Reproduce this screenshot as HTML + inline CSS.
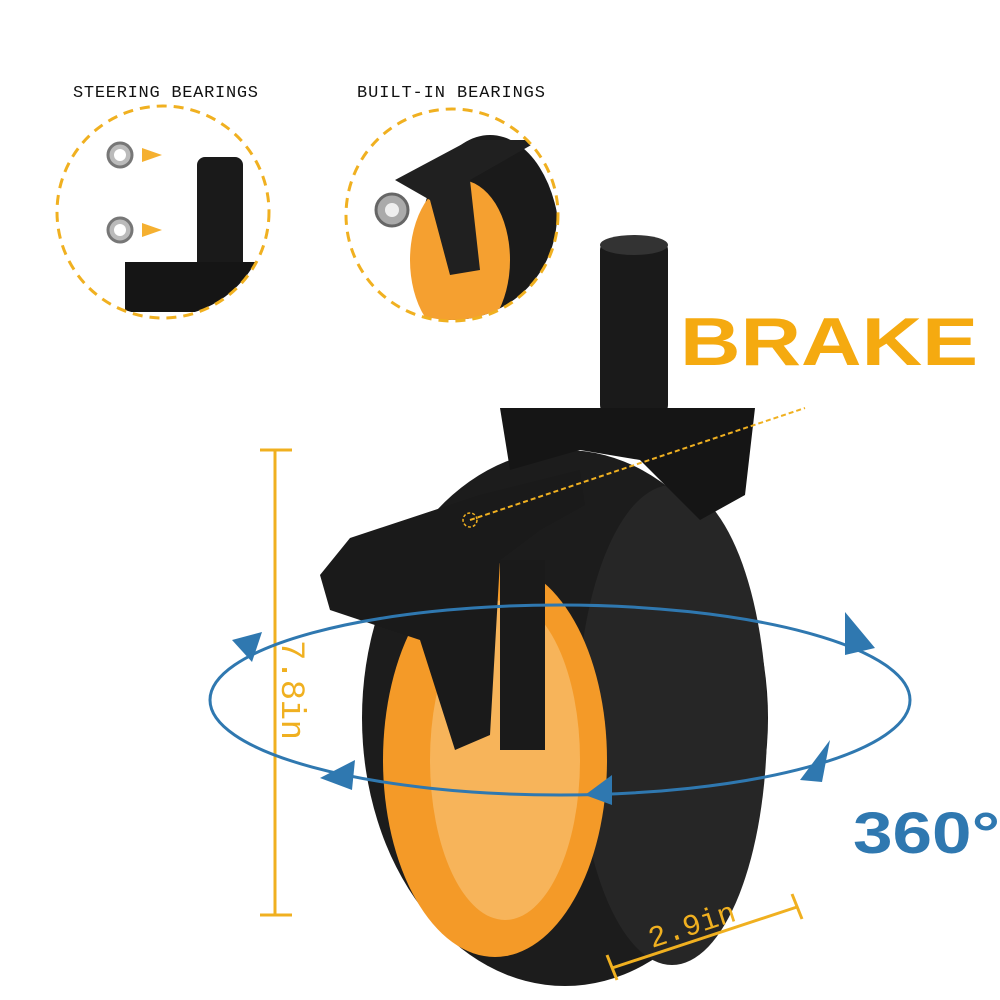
<!DOCTYPE html>
<html><head><meta charset="utf-8"><style>
html,body{margin:0;padding:0;background:#fff}
svg{display:block}
</style></head><body>
<svg width="1000" height="1000" viewBox="0 0 1000 1000" xmlns="http://www.w3.org/2000/svg">
<rect width="1000" height="1000" fill="#fff"/>
<text x="73" y="97" font-family="Liberation Mono, monospace" font-size="17" fill="#111" textLength="185">STEERING BEARINGS</text>
<text x="357" y="97" font-family="Liberation Mono, monospace" font-size="17" fill="#111" textLength="188">BUILT-IN BEARINGS</text>
<!-- left inset -->
<clipPath id="c1"><circle cx="163" cy="212" r="105"/></clipPath>
<g clip-path="url(#c1)">
<rect x="197" y="157" width="46" height="113" rx="8" fill="#1a1a1a"/>
<rect x="125" y="262" width="130" height="50" fill="#151515"/>
</g>
<circle cx="163" cy="212" r="106" fill="none" stroke="#f0b020" stroke-width="3" stroke-dasharray="10,7"/>
<circle cx="120" cy="155" r="12" fill="#bbb" stroke="#777" stroke-width="3"/><circle cx="120" cy="155" r="6" fill="#fff"/>
<circle cx="120" cy="230" r="12" fill="#bbb" stroke="#777" stroke-width="3"/><circle cx="120" cy="230" r="6" fill="#fff"/>
<polygon points="142,148 162,155 142,162" fill="#f5b030"/>
<polygon points="142,223 162,230 142,237" fill="#f5b030"/>
<!-- right inset -->
<clipPath id="c2"><circle cx="452" cy="215" r="105"/></clipPath>
<g clip-path="url(#c2)">
<ellipse cx="490" cy="245" rx="70" ry="110" fill="#1a1a1a"/>
<ellipse cx="460" cy="260" rx="50" ry="80" fill="#f5a030"/>
<path d="M395,180 L470,140 L540,140 L470,180 L480,270 L450,275 L430,200 Z" fill="#202020"/>
</g>
<circle cx="452" cy="215" r="106" fill="none" stroke="#f0b020" stroke-width="3" stroke-dasharray="10,7"/>
<circle cx="392" cy="210" r="16" fill="#aaa" stroke="#666" stroke-width="3"/><circle cx="392" cy="210" r="7" fill="#eee"/>
<!-- BRAKE -->
<text x="680" y="365" font-family="Liberation Sans, sans-serif" font-weight="bold" font-size="68" fill="#f5aa10" textLength="298" lengthAdjust="spacingAndGlyphs">BRAKE</text>
<!-- wheel -->
<rect x="600" y="240" width="68" height="175" rx="10" fill="#1a1a1a"/>
<ellipse cx="634" cy="245" rx="34" ry="10" fill="#333"/>
<ellipse cx="565" cy="718" rx="203" ry="268" fill="#1c1c1c"/>
<ellipse cx="672" cy="725" rx="95" ry="240" fill="#262626"/>
<ellipse cx="495" cy="760" rx="112" ry="197" fill="#f49a28"/>
<ellipse cx="505" cy="760" rx="75" ry="160" fill="#f7b45a"/>
<rect x="500" y="560" width="45" height="190" fill="#1a1a1a"/>
<path d="M500,408 L755,408 L745,495 L700,520 L640,460 L580,450 L510,470 Z" fill="#151515"/>
<path d="M320,575 L350,538 L480,495 L580,470 L585,505 L540,530 L500,560 L490,735 L455,750 L420,640 L330,610 Z" fill="#1a1a1a"/>
<line x1="470" y1="520" x2="805" y2="408" stroke="#f0b020" stroke-width="2" stroke-dasharray="5,3"/>
<circle cx="470" cy="520" r="7" fill="none" stroke="#f0b020" stroke-width="1.5" stroke-dasharray="3,2"/>
<!-- dimensions -->
<g stroke="#f0b020" stroke-width="3" fill="none">
<line x1="275" y1="450" x2="275" y2="915"/><line x1="260" y1="450" x2="292" y2="450"/><line x1="260" y1="915" x2="292" y2="915"/>
<line x1="612" y1="968" x2="797" y2="907"/><line x1="607" y1="955" x2="617" y2="980"/><line x1="792" y1="894" x2="802" y2="919"/>
</g>
<text transform="translate(282,640) rotate(90)" font-family="Liberation Mono, monospace" font-size="34" fill="#f0b020" textLength="100">7.8in</text>
<text transform="translate(652,948) rotate(-18)" font-family="Liberation Mono, monospace" font-size="30" fill="#f0b020">2.9in</text>
<!-- rotation ellipse -->
<ellipse cx="560" cy="700" rx="350" ry="95" fill="none" stroke="#2f78b0" stroke-width="3"/>
<polygon points="232,640 262,632 252,662" fill="#2f78b0"/>
<polygon points="845,612 875,648 845,655" fill="#2f78b0"/>
<polygon points="830,740 800,780 822,782" fill="#2f78b0"/>
<polygon points="355,760 320,778 352,790" fill="#2f78b0"/>
<polygon points="612,775 585,795 612,805" fill="#2f78b0"/>
<text x="853" y="853" font-family="Liberation Sans, sans-serif" font-weight="bold" font-size="58" fill="#2f78b0" textLength="147" lengthAdjust="spacingAndGlyphs">360°</text>
</svg>
</body></html>
